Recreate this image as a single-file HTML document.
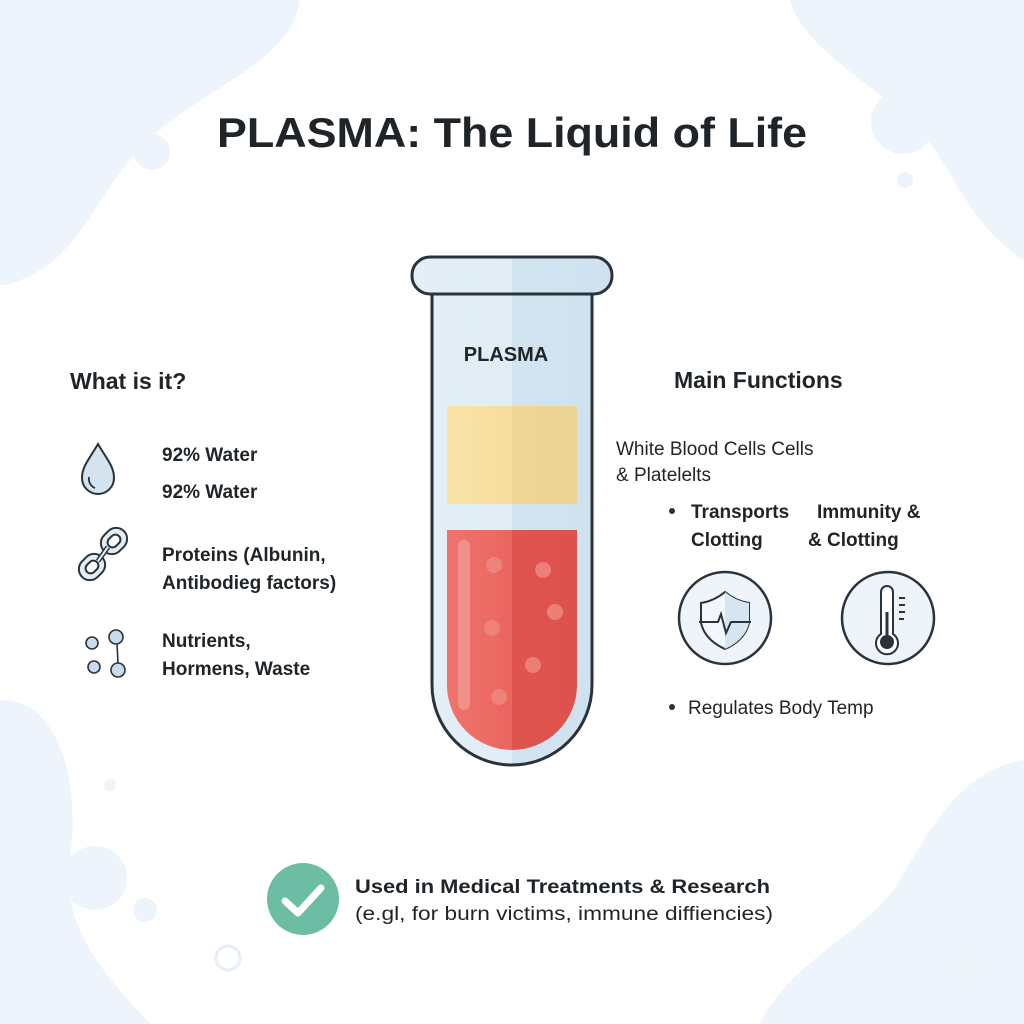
<!DOCTYPE html>
<html><head><meta charset="utf-8"><style>
html,body{margin:0;padding:0;width:1024px;height:1024px;overflow:hidden;background:#fff}
svg{display:block}
text{font-family:"Liberation Sans",sans-serif;fill:#1f2428}
</style></head><body>
<svg width="1024" height="1024" viewBox="0 0 1024 1024" xmlns="http://www.w3.org/2000/svg">
<defs>
<linearGradient id="red" x1="0" x2="1"><stop offset="0" stop-color="#ee736c"/><stop offset="0.5" stop-color="#ea6660"/><stop offset="0.5" stop-color="#e0544f"/><stop offset="1" stop-color="#de524d"/></linearGradient>
<linearGradient id="yel" x1="0" x2="1"><stop offset="0" stop-color="#f9e3a6"/><stop offset="0.5" stop-color="#f6dd9e"/><stop offset="0.5" stop-color="#efd696"/><stop offset="1" stop-color="#ecd494"/></linearGradient>
<linearGradient id="glass" x1="0" x2="1"><stop offset="0" stop-color="#e3eef6"/><stop offset="0.5" stop-color="#e1edf6"/><stop offset="0.5" stop-color="#d2e4f0"/><stop offset="1" stop-color="#cfe2ef"/></linearGradient>
</defs>
<rect width="1024" height="1024" fill="#fff"/>
<g fill="#edf4fb">
<path d="M0 0 H300 C290 60 220 80 160 130 C100 180 90 240 40 270 C20 282 8 285 0 285 Z"/>
<path d="M1024 0 H790 C800 40 850 70 900 110 C950 150 960 220 1024 260 Z"/>
<path d="M0 700 C60 700 80 780 70 860 C60 930 110 980 150 1024 H0 Z"/>
<path d="M1024 760 C960 770 930 830 900 880 C870 930 790 960 760 1024 H1024 Z"/>
<circle cx="152" cy="152" r="18"/><circle cx="903" cy="122" r="32"/><circle cx="905" cy="180" r="8"/>
<circle cx="95" cy="878" r="32"/><circle cx="145" cy="910" r="12"/><circle cx="110" cy="785" r="6"/>
</g>
<circle cx="228" cy="958" r="12" fill="none" stroke="#e6eff8" stroke-width="3"/>
<text x="512" y="147" text-anchor="middle" font-size="42" font-weight="bold" textLength="590" lengthAdjust="spacingAndGlyphs">PLASMA: The Liquid of Life</text>
<path d="M432 294 V685 A80 80 0 0 0 592 685 V294 Z" fill="url(#glass)" stroke="#2a333b" stroke-width="3"/>
<rect x="447" y="406" width="130" height="98" fill="url(#yel)"/>
<path d="M447 530 H577 V685 A65 65 0 0 1 447 685 Z" fill="url(#red)"/>
<rect x="458" y="540" width="12" height="170" rx="6" fill="#f4a6a0" opacity="0.6"/>
<g fill="#f08a82" opacity="0.8">
<circle cx="494" cy="565" r="8"/><circle cx="543" cy="570" r="8"/><circle cx="555" cy="612" r="8"/>
<circle cx="492" cy="628" r="8"/><circle cx="533" cy="665" r="8"/><circle cx="499" cy="697" r="8"/></g>
<rect x="412" y="257" width="200" height="37" rx="18" fill="url(#glass)" stroke="#2a333b" stroke-width="3"/>
<text x="506" y="361" text-anchor="middle" font-size="20" font-weight="bold" fill="#2a333b">PLASMA</text>
<text x="70" y="389" font-size="23" font-weight="bold">What is it?</text>
<path d="M98 444 C90 458 82 466 82 478 A16 16 0 0 0 114 478 C114 466 106 458 98 444 Z" fill="#d3e3f0" stroke="#2a333b" stroke-width="2"/>
<path d="M89 477 A10 10 0 0 0 95 488" fill="none" stroke="#2a333b" stroke-width="1.8"/>
<text x="162" y="461" font-size="19" font-weight="bold">92% Water</text>
<text x="162" y="498" font-size="19" font-weight="bold">92% Water</text>
<g fill="none" stroke="#2a333b" stroke-width="2">
<rect x="100" y="530" width="28" height="22" rx="11" transform="rotate(-45 114 541)" fill="#e3edf6"/>
<rect x="107" y="536" width="14" height="10" rx="5" transform="rotate(-45 114 541)" fill="#fff"/>
<rect x="78" y="556" width="28" height="22" rx="11" transform="rotate(-45 92 567)" fill="#e3edf6"/>
<rect x="85" y="562" width="14" height="10" rx="5" transform="rotate(-45 92 567)" fill="#fff"/>
<line x1="98" y1="561" x2="108" y2="547" stroke-width="5"/>
<line x1="98" y1="561" x2="108" y2="547" stroke="#e3edf6" stroke-width="2"/></g>
<text x="162" y="561" font-size="19" font-weight="bold">Proteins (Albunin,</text>
<text x="162" y="589" font-size="19" font-weight="bold">Antibodieg factors)</text>
<g fill="#c8dcee" stroke="#2a333b" stroke-width="1.6">
<circle cx="92" cy="643" r="6"/><circle cx="116" cy="637" r="7"/><circle cx="94" cy="667" r="6"/><circle cx="118" cy="670" r="7"/>
<line x1="117" y1="644" x2="118" y2="663"/></g>
<text x="162" y="647" font-size="19" font-weight="bold">Nutrients,</text>
<text x="162" y="675" font-size="19" font-weight="bold">Hormens, Waste</text>
<text x="674" y="388" font-size="23" font-weight="bold">Main Functions</text>
<text x="616" y="455" font-size="19">White Blood Cells Cells</text>
<text x="616" y="481" font-size="19">&amp; Platelelts</text>
<circle cx="672" cy="511" r="3" fill="#2a333b"/>
<text x="691" y="518" font-size="19" font-weight="bold">Transports</text>
<text x="817" y="518" font-size="19" font-weight="bold">Immunity &amp;</text>
<text x="691" y="546" font-size="19" font-weight="bold">Clotting</text>
<text x="808" y="546" font-size="19" font-weight="bold">&amp; Clotting</text>
<circle cx="725" cy="618" r="46" fill="#eef4fa" stroke="#2a333b" stroke-width="2.5"/>
<path d="M701 603 Q714 601 725 592 Q736 601 749 603 L749 623 Q745 640 725 649 Q705 640 701 623 Z" fill="#f3f7fb" stroke="#2a333b" stroke-width="2"/>
<path d="M725 592 Q736 601 749 603 L749 623 Q745 640 725 649 Z" fill="#d6e5f0"/>
<path d="M699 622 H718 L721 614 L726 633 L731 622 H751" fill="none" stroke="#2a333b" stroke-width="2"/>
<circle cx="888" cy="618" r="46" fill="#eef4fa" stroke="#2a333b" stroke-width="2.5"/>
<path d="M881 634 V592 A6 6 0 0 1 893 592 V634 A11 11 0 1 1 881 634 Z" fill="#fff" stroke="#2a333b" stroke-width="2"/>
<circle cx="887" cy="642" r="7" fill="#2a333b"/><line x1="887" y1="612" x2="887" y2="640" stroke="#2a333b" stroke-width="3"/>
<g stroke="#2a333b" stroke-width="2"><line x1="899" y1="598" x2="905" y2="598"/><line x1="899" y1="605" x2="905" y2="605"/><line x1="899" y1="612" x2="905" y2="612"/><line x1="899" y1="619" x2="904" y2="619"/></g>
<circle cx="672" cy="707" r="3" fill="#2a333b"/>
<text x="688" y="714" font-size="19">Regulates Body Temp</text>
<circle cx="303" cy="899" r="36" fill="#6cbda3"/>
<path d="M285 901 L298 913 L321 888" fill="none" stroke="#fff" stroke-width="7" stroke-linecap="round" stroke-linejoin="round"/>
<text x="355" y="893" font-size="19" font-weight="bold" textLength="415" lengthAdjust="spacingAndGlyphs">Used in Medical Treatments &amp; Research</text>
<text x="355" y="920" font-size="19" textLength="418" lengthAdjust="spacingAndGlyphs">(e.gl, for burn victims, immune diffiencies)</text>
<path d="M970 948 L974 962 L988 966 L974 970 L970 984 L966 970 L952 966 L966 962 Z" fill="#eef3f8"/>
</svg>
</body></html>
